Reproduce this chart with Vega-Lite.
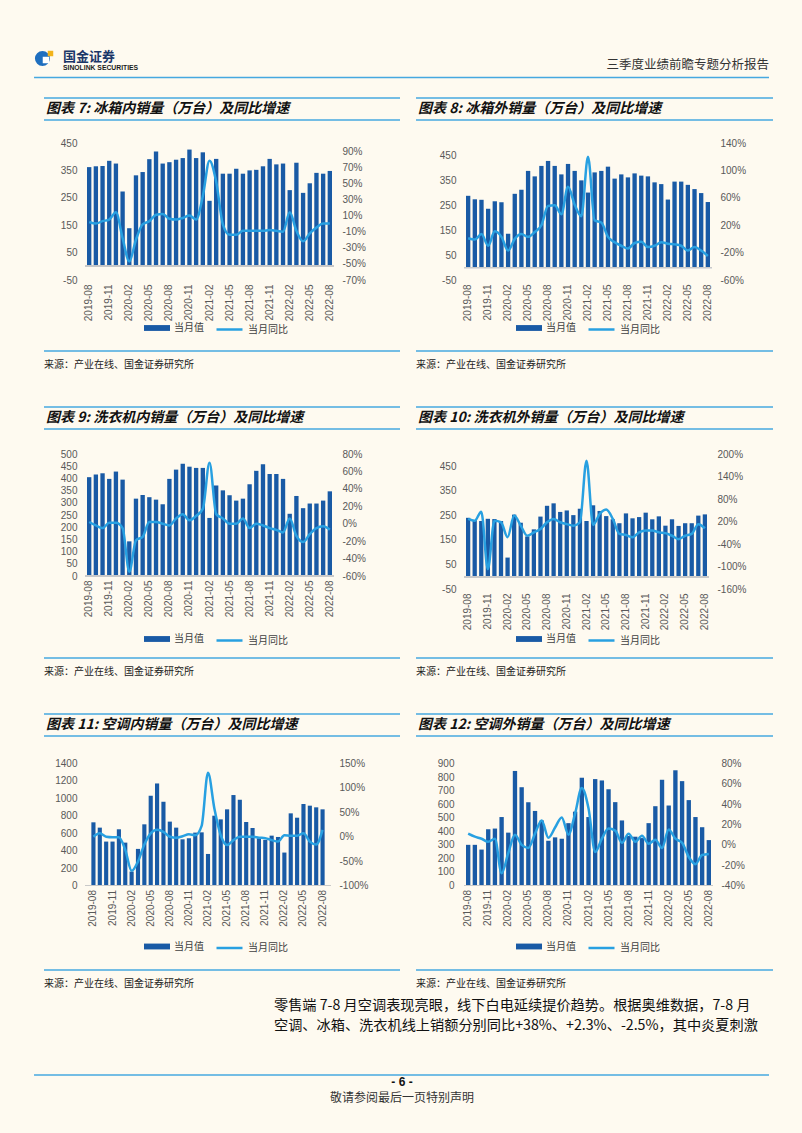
{
"$schema": "https://vega.github.io/schema/vega-lite/v6.json",
"background": "#fefaf0",
"padding": {"left": 33, "top": 40, "right": 32, "bottom": 0},
"spacing": 0,
"resolve": {"scale": {"fill": "independent", "stroke": "independent"}},
"config": {
  "view": {"stroke": null},
  "axis": {"labelFont": "Liberation Sans", "labelFontSize": 10, "labelColor": "#595959", "grid": false, "ticks": false, "domain": false, "labelOverlap": false, "labelFlush": false},
  "legend": {"padding": 0, "labelFont": "Noto Sans CJK SC", "labelFontSize": 10, "labelColor": "#404040", "symbolSize": 169, "labelOffset": 10.5},
  "text": {"font": "Noto Sans CJK SC"}
},
"datasets": {"d": [
{"m":"2019-08","v7":362,"y7":2,"v8":288,"y8":1,"v9":405,"y9":2,"v10":240,"y10":27,"v11":725,"y11":0,"v12":300,"y12":11},
{"m":"2019-09","v7":365,"y7":0,"v8":274,"y8":-1,"v9":416,"y9":-2,"v10":231,"y10":22,"v11":664,"y11":7,"v12":300,"y12":8},
{"m":"2019-10","v7":366,"y7":3,"v8":272,"y8":7,"v9":421,"y9":-5,"v10":227,"y10":46,"v11":504,"y11":0,"v12":265,"y12":6},
{"m":"2019-11","v7":385,"y7":5,"v8":236,"y8":-10,"v9":398,"y9":1,"v10":236,"y10":-107,"v11":504,"y11":-1,"v12":415,"y12":3},
{"m":"2019-12","v7":375,"y7":14,"v8":266,"y8":11,"v9":428,"y9":1,"v10":235,"y10":22,"v11":645,"y11":-1,"v12":420,"y12":6},
{"m":"2020-01","v7":273,"y7":-18,"v8":262,"y8":3,"v9":395,"y9":-5,"v10":227,"y10":18,"v11":492,"y11":-27,"v12":505,"y12":-28},
{"m":"2020-02","v7":139,"y7":-47,"v8":136,"y8":-17,"v9":142,"y9":-55,"v10":78,"y10":-22,"v11":160,"y11":-70,"v12":390,"y12":-8},
{"m":"2020-03","v7":332,"y7":-20,"v8":296,"y8":0,"v9":317,"y9":-19,"v10":253,"y10":36,"v11":420,"y11":-51,"v12":845,"y12":10},
{"m":"2020-04","v7":344,"y7":-1,"v8":312,"y8":7,"v9":332,"y9":-15,"v10":220,"y10":9,"v11":702,"y11":-16,"v12":725,"y12":0},
{"m":"2020-05","v7":391,"y7":3,"v8":388,"y8":3,"v9":323,"y9":2,"v10":164,"y10":-18,"v11":1030,"y11":7,"v12":615,"y12":-3},
{"m":"2020-06","v7":419,"y7":11,"v8":366,"y8":10,"v9":313,"y9":2,"v10":193,"y10":-9,"v11":1171,"y11":14,"v12":550,"y12":11},
{"m":"2020-07","v7":375,"y7":12,"v8":408,"y8":20,"v9":294,"y9":0,"v10":245,"y10":0,"v11":961,"y11":10,"v12":480,"y12":24},
{"m":"2020-08","v7":380,"y7":6,"v8":428,"y8":48,"v9":398,"y9":-2,"v10":289,"y10":18,"v11":733,"y11":0,"v12":330,"y12":7},
{"m":"2020-09","v7":389,"y7":5,"v8":408,"y8":49,"v9":436,"y9":6,"v10":299,"y10":27,"v11":664,"y11":-2,"v12":355,"y12":17},
{"m":"2020-10","v7":395,"y7":7,"v8":374,"y8":36,"v9":460,"y9":11,"v10":264,"y10":18,"v11":530,"y11":1,"v12":345,"y12":27},
{"m":"2020-11","v7":426,"y7":10,"v8":416,"y8":76,"v9":448,"y9":4,"v10":270,"y10":13,"v11":542,"y11":5,"v12":460,"y12":10},
{"m":"2020-12","v7":395,"y7":5,"v8":388,"y8":50,"v9":443,"y9":9,"v10":251,"y10":9,"v11":607,"y11":3,"v12":545,"y12":31},
{"m":"2021-01","v7":416,"y7":34,"v8":350,"y8":33,"v9":443,"y9":17,"v10":277,"y10":18,"v11":610,"y11":22,"v12":795,"y12":56},
{"m":"2021-02","v7":239,"y7":78,"v8":301,"y8":120,"v9":238,"y9":70,"v10":227,"y10":182,"v11":362,"y11":131,"v12":505,"y12":36},
{"m":"2021-03","v7":392,"y7":52,"v8":382,"y8":27,"v9":371,"y9":11,"v10":291,"y10":11,"v11":801,"y11":58,"v12":785,"y12":-7},
{"m":"2021-04","v7":338,"y7":-1,"v8":388,"y8":24,"v9":351,"y9":6,"v10":268,"y10":40,"v11":759,"y11":3,"v12":775,"y12":6},
{"m":"2021-05","v7":338,"y7":-14,"v8":405,"y8":3,"v9":331,"y9":0,"v10":247,"y10":52,"v11":874,"y11":-17,"v12":710,"y12":16},
{"m":"2021-06","v7":356,"y7":-14,"v8":357,"y8":-5,"v9":309,"y9":0,"v10":234,"y10":27,"v11":1038,"y11":-7,"v12":615,"y12":14},
{"m":"2021-07","v7":338,"y7":-9,"v8":374,"y8":-10,"v9":317,"y9":6,"v10":218,"y10":-13,"v11":984,"y11":0,"v12":480,"y12":2},
{"m":"2021-08","v7":350,"y7":-9,"v8":362,"y8":-14,"v9":376,"y9":-5,"v10":258,"y10":-16,"v11":729,"y11":0,"v12":365,"y12":11},
{"m":"2021-09","v7":352,"y7":-9,"v8":378,"y8":-6,"v9":431,"y9":0,"v10":238,"y10":-22,"v11":660,"y11":0,"v12":360,"y12":3},
{"m":"2021-10","v7":365,"y7":-9,"v8":369,"y8":-4,"v9":458,"y9":-2,"v10":243,"y10":-9,"v11":542,"y11":-2,"v12":350,"y12":9},
{"m":"2021-11","v7":392,"y7":-8,"v8":366,"y8":-12,"v9":418,"y9":-5,"v10":261,"y10":-4,"v11":523,"y11":-3,"v12":460,"y12":1},
{"m":"2021-12","v7":372,"y7":-9,"v8":342,"y8":-10,"v9":418,"y9":-7,"v10":234,"y10":-4,"v11":572,"y11":-7,"v12":585,"y12":5},
{"m":"2022-01","v7":375,"y7":-10,"v8":335,"y8":-5,"v9":398,"y9":-10,"v10":246,"y10":-9,"v11":557,"y11":-10,"v12":780,"y12":-3},
{"m":"2022-02","v7":278,"y7":14,"v8":273,"y8":-7,"v9":255,"y9":6,"v10":208,"y10":-11,"v11":378,"y11":3,"v12":590,"y12":15},
{"m":"2022-03","v7":378,"y7":-9,"v8":345,"y8":-8,"v9":328,"y9":-14,"v10":234,"y10":-18,"v11":828,"y11":2,"v12":850,"y12":6},
{"m":"2022-04","v7":268,"y7":-22,"v8":345,"y8":-10,"v9":278,"y9":-21,"v10":207,"y10":-27,"v11":778,"y11":2,"v12":770,"y12":2},
{"m":"2022-05","v7":303,"y7":-12,"v8":332,"y8":-17,"v9":297,"y9":-12,"v10":218,"y10":-18,"v11":935,"y11":7,"v12":630,"y12":-12},
{"m":"2022-06","v7":341,"y7":-5,"v8":315,"y8":-12,"v9":297,"y9":-5,"v10":218,"y10":-13,"v11":916,"y11":-10,"v12":505,"y12":-19},
{"m":"2022-07","v7":338,"y7":0,"v8":299,"y8":-17,"v9":309,"y9":-3,"v10":249,"y10":13,"v11":897,"y11":-16,"v12":430,"y12":-10},
{"m":"2022-08","v7":348,"y7":0,"v8":263,"y8":-25,"v9":347,"y9":-7,"v10":254,"y10":2,"v11":874,"y11":14,"v12":335,"y12":-9}
]},
"vconcat": [
{
  "width": 686, "height": 57,
  "data": {"values": [{}]},
  "layer": [
    {"mark": {"type": "rule", "stroke": "#46a8e0", "strokeWidth": 1.5},
     "encoding": {"x": {"datum": -0.0743, "type": "quantitative", "scale": {"domain": [0, 1]}, "axis": null}, "x2": {"datum": 0.9971}, "y": {"datum": 0.342, "type": "quantitative", "scale": {"domain": [0, 1]}, "axis": null}}},
    {"mark": {"type": "point", "filled": true, "shape": "circle", "size": 227, "color": "#1f6fbf", "opacity": 1},
     "encoding": {"x": {"datum": -0.062, "type": "quantitative"}, "y": {"datum": 0.675, "type": "quantitative"}}},
    {"mark": {"type": "point", "filled": true, "shape": "square", "size": 42, "color": "#ffffff", "opacity": 1},
     "encoding": {"x": {"datum": -0.0569, "type": "quantitative"}, "y": {"datum": 0.649, "type": "quantitative"}}},
    {"mark": {"type": "point", "filled": true, "shape": "square", "size": 30, "color": "#f2b31a", "opacity": 1},
     "encoding": {"x": {"datum": -0.0503, "type": "quantitative"}, "y": {"datum": 0.763, "type": "quantitative"}}},
    {"mark": {"type": "text", "text": "国金证券", "align": "left", "baseline": "middle", "fontSize": 13, "fontWeight": "bold", "fill": "#1a3668"},
     "encoding": {"x": {"datum": -0.0321, "type": "quantitative"}, "y": {"datum": 0.702, "type": "quantitative"}}},
    {"mark": {"type": "text", "text": "SINOLINK SECURITIES", "align": "left", "baseline": "middle", "font": "Liberation Sans", "fontSize": 6.8, "fontWeight": "bold", "fill": "#1a1a1a"},
     "encoding": {"x": {"datum": -0.0321, "type": "quantitative"}, "y": {"datum": 0.509, "type": "quantitative"}}},
    {"mark": {"type": "text", "text": "三季度业绩前瞻专题分析报告", "align": "right", "baseline": "middle", "fontSize": 12.5, "fill": "#333333"},
     "encoding": {"x": {"datum": 0.9971, "type": "quantitative"}, "y": {"datum": 0.561, "type": "quantitative"}}}
  ]
},
{
  "columns": 2, "align": "each", "spacing": {"row": 15, "column": 14},
  "resolve": {"scale": {"fill": "independent", "stroke": "independent"}},
  "concat": [
    {"width": 315, "height": 24.5, "data": {"values": [{}]},
     "layer": [
      {"mark": {"type": "rule", "stroke": "#46a8e0", "strokeWidth": 1.5}, "encoding": {"x": {"datum": -0.1302, "type": "quantitative", "scale": {"domain": [0, 1]}, "axis": null}, "x2": {"datum": 1}, "y": {"datum": 1, "type": "quantitative", "scale": {"domain": [0, 1]}, "axis": null}}},
      {"mark": {"type": "rule", "stroke": "#46a8e0", "strokeWidth": 1.5}, "encoding": {"x": {"datum": -0.1302, "type": "quantitative"}, "x2": {"datum": 1}, "y": {"datum": 0.102, "type": "quantitative"}}},
      {"mark": {"type": "text", "text": "图表 7: 冰箱内销量（万台）及同比增速", "align": "left", "baseline": "middle", "dx": 2, "fontSize": 14, "fontWeight": "bold", "fontStyle": "italic", "fill": "#111111"},
       "encoding": {"x": {"datum": -0.1302, "type": "quantitative"}, "y": {"datum": 0.551, "type": "quantitative"}}}
     ]},
    {"width": 309, "height": 24.5, "data": {"values": [{}]},
     "layer": [
      {"mark": {"type": "rule", "stroke": "#46a8e0", "strokeWidth": 1.5}, "encoding": {"x": {"datum": -0.1553, "type": "quantitative", "scale": {"domain": [0, 1]}, "axis": null}, "x2": {"datum": 1}, "y": {"datum": 1, "type": "quantitative", "scale": {"domain": [0, 1]}, "axis": null}}},
      {"mark": {"type": "rule", "stroke": "#46a8e0", "strokeWidth": 1.5}, "encoding": {"x": {"datum": -0.1553, "type": "quantitative"}, "x2": {"datum": 1}, "y": {"datum": 0.102, "type": "quantitative"}}},
      {"mark": {"type": "text", "text": "图表 8: 冰箱外销量（万台）及同比增速", "align": "left", "baseline": "middle", "dx": 2, "fontSize": 14, "fontWeight": "bold", "fontStyle": "italic", "fill": "#111111"},
       "encoding": {"x": {"datum": -0.1553, "type": "quantitative"}, "y": {"datum": 0.551, "type": "quantitative"}}}
     ]},
    {"width": 249, "height": 137, "data": {"name": "d"},
     "layer": [
      {"layer": [
        {"mark": {"type": "bar"},
         "encoding": {
          "x": {"field": "m", "type": "ordinal", "sort": null, "scale": {"paddingInner": 0.35, "paddingOuter": 0.3}, "axis": {"values": ["2019-08","2019-11","2020-02","2020-05","2020-08","2020-11","2021-02","2021-05","2021-08","2021-11","2022-02","2022-05","2022-08"], "labelAngle": -90, "labelPadding": 4, "title": null}},
          "y": {"field": "v7", "type": "quantitative", "scale": {"domain": [-50, 450], "nice": false, "zero": false}, "axis": {"values": [-50,50,150,250,350,450], "labelExpr": "'' + datum.value", "labelOverlap": false, "labelPadding": 8, "title": null}},
          "y2": {"datum": 0},
          "fill": {"datum": "当月值", "type": "nominal", "scale": {"range": ["#195aa5"]}, "legend": {"orient": "none", "legendX": 65.5, "legendY": 178.5, "title": null, "symbolType": "M-2,-0.45H2V0.45H-2Z", "symbolStrokeWidth": 0}}
         }},
        {"mark": {"type": "rule", "stroke": "#c9c9c9", "strokeWidth": 1}, "encoding": {"y": {"datum": 0, "type": "quantitative", "axis": {"values": [-50,50,150,250,350,450], "labelExpr": "'' + datum.value", "labelOverlap": false, "labelPadding": 8, "title": null}}}}
      ]},
      {"mark": {"type": "line", "strokeWidth": 2.5, "interpolate": "monotone"},
       "encoding": {
        "x": {"field": "m", "type": "ordinal", "sort": null},
        "y": {"field": "y7", "type": "quantitative", "scale": {"domain": [-70, 100], "nice": false, "zero": false}, "axis": {"orient": "right", "values": [-70,-50,-30,-10,10,30,50,70,90], "labelOverlap": false, "labelExpr": "datum.value + '%'", "labelPadding": 8, "title": null}},
        "stroke": {"datum": "当月同比", "type": "nominal", "scale": {"range": ["#28a0e1"]}, "legend": {"orient": "none", "legendX": 136.5, "legendY": 178.5, "title": null, "symbolType": "M-2,0H2", "symbolStrokeWidth": 2.5}}
       }}
     ],
     "resolve": {"scale": {"y": "independent"}}},
    {"width": 248, "height": 137, "data": {"name": "d"},
     "layer": [
      {"layer": [
        {"mark": {"type": "bar"},
         "encoding": {
          "x": {"field": "m", "type": "ordinal", "sort": null, "scale": {"paddingInner": 0.35, "paddingOuter": 0.3}, "axis": {"values": ["2019-08","2019-11","2020-02","2020-05","2020-08","2020-11","2021-02","2021-05","2021-08","2021-11","2022-02","2022-05","2022-08"], "labelAngle": -90, "labelPadding": 4, "title": null}},
          "y": {"field": "v8", "type": "quantitative", "scale": {"domain": [-50, 500], "nice": false, "zero": false}, "axis": {"values": [-50,50,150,250,350,450], "labelExpr": "'' + datum.value", "labelOverlap": false, "labelPadding": 8, "title": null}},
          "y2": {"datum": 0},
          "fill": {"datum": "当月值", "type": "nominal", "scale": {"range": ["#195aa5"]}, "legend": {"orient": "none", "legendX": 58.5, "legendY": 178.5, "title": null, "symbolType": "M-2,-0.45H2V0.45H-2Z", "symbolStrokeWidth": 0}}
         }},
        {"mark": {"type": "rule", "stroke": "#c9c9c9", "strokeWidth": 1}, "encoding": {"y": {"datum": 0, "type": "quantitative", "axis": {"values": [-50,50,150,250,350,450], "labelExpr": "'' + datum.value", "labelOverlap": false, "labelPadding": 8, "title": null}}}}
      ]},
      {"mark": {"type": "line", "strokeWidth": 2.5, "interpolate": "monotone"},
       "encoding": {
        "x": {"field": "m", "type": "ordinal", "sort": null},
        "y": {"field": "y8", "type": "quantitative", "scale": {"domain": [-60, 140], "nice": false, "zero": false}, "axis": {"orient": "right", "values": [-60,-20,20,60,100,140], "labelOverlap": false, "labelExpr": "datum.value + '%'", "labelPadding": 8, "title": null}},
        "stroke": {"datum": "当月同比", "type": "nominal", "scale": {"range": ["#28a0e1"]}, "legend": {"orient": "none", "legendX": 129.5, "legendY": 178.5, "title": null, "symbolType": "M-2,0H2", "symbolStrokeWidth": 2.5}}
       }}
     ],
     "resolve": {"scale": {"y": "independent"}}},
    {"width": 315, "height": 54.75, "data": {"values": [{}]},
     "layer": [
      {"mark": {"type": "rule", "stroke": "#46a8e0", "strokeWidth": 1.5}, "encoding": {"x": {"datum": -0.1302, "type": "quantitative", "scale": {"domain": [0, 1]}, "axis": null}, "x2": {"datum": 1}, "y": {"datum": 1, "type": "quantitative", "scale": {"domain": [0, 1]}, "axis": null}}},
      {"mark": {"type": "text", "text": "来源：产业在线、国金证券研究所", "align": "left", "baseline": "middle", "fontSize": 10, "fill": "#222222"},
       "encoding": {"x": {"datum": -0.1302, "type": "quantitative"}, "y": {"datum": 0.7534, "type": "quantitative"}}}
     ]},
    {"width": 309, "height": 54.75, "data": {"values": [{}]},
     "layer": [
      {"mark": {"type": "rule", "stroke": "#46a8e0", "strokeWidth": 1.5}, "encoding": {"x": {"datum": -0.1553, "type": "quantitative", "scale": {"domain": [0, 1]}, "axis": null}, "x2": {"datum": 1}, "y": {"datum": 1, "type": "quantitative", "scale": {"domain": [0, 1]}, "axis": null}}},
      {"mark": {"type": "text", "text": "来源：产业在线、国金证券研究所", "align": "left", "baseline": "middle", "fontSize": 10, "fill": "#222222"},
       "encoding": {"x": {"datum": -0.1553, "type": "quantitative"}, "y": {"datum": 0.7534, "type": "quantitative"}}}
     ]}
  ]
},
{
  "columns": 2, "align": "each", "spacing": {"row": 11, "column": 14},
  "resolve": {"scale": {"fill": "independent", "stroke": "independent"}},
  "concat": [
    {"width": 315, "height": 31, "data": {"values": [{}]},
     "layer": [
      {"mark": {"type": "rule", "stroke": "#46a8e0", "strokeWidth": 1.5}, "encoding": {"x": {"datum": -0.1302, "type": "quantitative", "scale": {"domain": [0, 1]}, "axis": null}, "x2": {"datum": 1}, "y": {"datum": 1, "type": "quantitative", "scale": {"domain": [0, 1]}, "axis": null}}},
      {"mark": {"type": "rule", "stroke": "#46a8e0", "strokeWidth": 1.5}, "encoding": {"x": {"datum": -0.1302, "type": "quantitative"}, "x2": {"datum": 1}, "y": {"datum": 0.29, "type": "quantitative"}}},
      {"mark": {"type": "text", "text": "图表 9: 洗衣机内销量（万台）及同比增速", "align": "left", "baseline": "middle", "dx": 2, "fontSize": 14, "fontWeight": "bold", "fontStyle": "italic", "fill": "#111111"},
       "encoding": {"x": {"datum": -0.1302, "type": "quantitative"}, "y": {"datum": 0.645, "type": "quantitative"}}}
     ]},
    {"width": 309, "height": 31, "data": {"values": [{}]},
     "layer": [
      {"mark": {"type": "rule", "stroke": "#46a8e0", "strokeWidth": 1.5}, "encoding": {"x": {"datum": -0.1553, "type": "quantitative", "scale": {"domain": [0, 1]}, "axis": null}, "x2": {"datum": 1}, "y": {"datum": 1, "type": "quantitative", "scale": {"domain": [0, 1]}, "axis": null}}},
      {"mark": {"type": "rule", "stroke": "#46a8e0", "strokeWidth": 1.5}, "encoding": {"x": {"datum": -0.1553, "type": "quantitative"}, "x2": {"datum": 1}, "y": {"datum": 0.29, "type": "quantitative"}}},
      {"mark": {"type": "text", "text": "图表 10: 洗衣机外销量（万台）及同比增速", "align": "left", "baseline": "middle", "dx": 2, "fontSize": 14, "fontWeight": "bold", "fontStyle": "italic", "fill": "#111111"},
       "encoding": {"x": {"datum": -0.1553, "type": "quantitative"}, "y": {"datum": 0.645, "type": "quantitative"}}}
     ]},
    {"width": 249, "height": 122, "data": {"name": "d"},
     "layer": [
      {"layer": [
        {"mark": {"type": "bar"},
         "encoding": {
          "x": {"field": "m", "type": "ordinal", "sort": null, "scale": {"paddingInner": 0.35, "paddingOuter": 0.3}, "axis": {"values": ["2019-08","2019-11","2020-02","2020-05","2020-08","2020-11","2021-02","2021-05","2021-08","2021-11","2022-02","2022-05","2022-08"], "labelAngle": -90, "labelPadding": 4, "title": null}},
          "y": {"field": "v9", "type": "quantitative", "scale": {"domain": [0, 500], "nice": false, "zero": false}, "axis": {"values": [0,50,100,150,200,250,300,350,400,450,500], "labelOverlap": false, "labelPadding": 8, "title": null}},
          "y2": {"datum": 0},
          "fill": {"datum": "当月值", "type": "nominal", "scale": {"range": ["#195aa5"]}, "legend": {"orient": "none", "legendX": 65.5, "legendY": 178.5, "title": null, "symbolType": "M-2,-0.45H2V0.45H-2Z", "symbolStrokeWidth": 0}}
         }},
        {"mark": {"type": "rule", "stroke": "#c9c9c9", "strokeWidth": 1}, "encoding": {"y": {"datum": 0, "type": "quantitative", "axis": {"values": [0,50,100,150,200,250,300,350,400,450,500], "labelOverlap": false, "labelPadding": 8, "title": null}}}}
      ]},
      {"mark": {"type": "line", "strokeWidth": 2.5, "interpolate": "monotone"},
       "encoding": {
        "x": {"field": "m", "type": "ordinal", "sort": null},
        "y": {"field": "y9", "type": "quantitative", "scale": {"domain": [-60, 80], "nice": false, "zero": false}, "axis": {"orient": "right", "values": [-60,-40,-20,0,20,40,60,80], "labelOverlap": false, "labelExpr": "datum.value + '%'", "labelPadding": 8, "title": null}},
        "stroke": {"datum": "当月同比", "type": "nominal", "scale": {"range": ["#28a0e1"]}, "legend": {"orient": "none", "legendX": 136.5, "legendY": 178.5, "title": null, "symbolType": "M-2,0H2", "symbolStrokeWidth": 2.5}}
       }}
     ],
     "resolve": {"scale": {"y": "independent"}}},
    {"width": 245, "height": 135, "data": {"name": "d"},
     "layer": [
      {"layer": [
        {"mark": {"type": "bar"},
         "encoding": {
          "x": {"field": "m", "type": "ordinal", "sort": null, "scale": {"paddingInner": 0.35, "paddingOuter": 0.3}, "axis": {"values": ["2019-08","2019-11","2020-02","2020-05","2020-08","2020-11","2021-02","2021-05","2021-08","2021-11","2022-02","2022-05","2022-08"], "labelAngle": -90, "labelPadding": 4, "title": null}},
          "y": {"field": "v10", "type": "quantitative", "scale": {"domain": [-50, 500], "nice": false, "zero": false}, "axis": {"values": [-50,50,150,250,350,450], "labelExpr": "'' + datum.value", "labelOverlap": false, "labelPadding": 8, "title": null}},
          "y2": {"datum": 0},
          "fill": {"datum": "当月值", "type": "nominal", "scale": {"range": ["#195aa5"]}, "legend": {"orient": "none", "legendX": 58.5, "legendY": 178.5, "title": null, "symbolType": "M-2,-0.45H2V0.45H-2Z", "symbolStrokeWidth": 0}}
         }},
        {"mark": {"type": "rule", "stroke": "#c9c9c9", "strokeWidth": 1}, "encoding": {"y": {"datum": 0, "type": "quantitative", "axis": {"values": [-50,50,150,250,350,450], "labelExpr": "'' + datum.value", "labelOverlap": false, "labelPadding": 8, "title": null}}}}
      ]},
      {"mark": {"type": "line", "strokeWidth": 2.5, "interpolate": "monotone"},
       "encoding": {
        "x": {"field": "m", "type": "ordinal", "sort": null},
        "y": {"field": "y10", "type": "quantitative", "scale": {"domain": [-160, 200], "nice": false, "zero": false}, "axis": {"orient": "right", "values": [-160,-100,-40,20,80,140,200], "labelOverlap": false, "labelExpr": "datum.value + '%'", "labelPadding": 8, "title": null}},
        "stroke": {"datum": "当月同比", "type": "nominal", "scale": {"range": ["#28a0e1"]}, "legend": {"orient": "none", "legendX": 129.5, "legendY": 178.5, "title": null, "symbolType": "M-2,0H2", "symbolStrokeWidth": 2.5}}
       }}
     ],
     "resolve": {"scale": {"y": "independent"}}},
    {"width": 315, "height": 55, "data": {"values": [{}]},
     "layer": [
      {"mark": {"type": "rule", "stroke": "#46a8e0", "strokeWidth": 1.5}, "encoding": {"x": {"datum": -0.1302, "type": "quantitative", "scale": {"domain": [0, 1]}, "axis": null}, "x2": {"datum": 1}, "y": {"datum": 1, "type": "quantitative", "scale": {"domain": [0, 1]}, "axis": null}}},
      {"mark": {"type": "text", "text": "来源：产业在线、国金证券研究所", "align": "left", "baseline": "middle", "fontSize": 10, "fill": "#222222"},
       "encoding": {"x": {"datum": -0.1302, "type": "quantitative"}, "y": {"datum": 0.7545, "type": "quantitative"}}}
     ]},
    {"width": 309, "height": 55, "data": {"values": [{}]},
     "layer": [
      {"mark": {"type": "rule", "stroke": "#46a8e0", "strokeWidth": 1.5}, "encoding": {"x": {"datum": -0.1553, "type": "quantitative", "scale": {"domain": [0, 1]}, "axis": null}, "x2": {"datum": 1}, "y": {"datum": 1, "type": "quantitative", "scale": {"domain": [0, 1]}, "axis": null}}},
      {"mark": {"type": "text", "text": "来源：产业在线、国金证券研究所", "align": "left", "baseline": "middle", "fontSize": 10, "fill": "#222222"},
       "encoding": {"x": {"datum": -0.1553, "type": "quantitative"}, "y": {"datum": 0.7545, "type": "quantitative"}}}
     ]}
  ]
},
{
  "columns": 2, "align": "each", "spacing": {"row": 15.5, "column": 14},
  "resolve": {"scale": {"fill": "independent", "stroke": "independent"}},
  "concat": [
    {"width": 315, "height": 28.5, "data": {"values": [{}]},
     "layer": [
      {"mark": {"type": "rule", "stroke": "#46a8e0", "strokeWidth": 1.5}, "encoding": {"x": {"datum": -0.1302, "type": "quantitative", "scale": {"domain": [0, 1]}, "axis": null}, "x2": {"datum": 1}, "y": {"datum": 1, "type": "quantitative", "scale": {"domain": [0, 1]}, "axis": null}}},
      {"mark": {"type": "rule", "stroke": "#46a8e0", "strokeWidth": 1.5}, "encoding": {"x": {"datum": -0.1302, "type": "quantitative"}, "x2": {"datum": 1}, "y": {"datum": 0.228, "type": "quantitative"}}},
      {"mark": {"type": "text", "text": "图表 11: 空调内销量（万台）及同比增速", "align": "left", "baseline": "middle", "dx": 2, "fontSize": 14, "fontWeight": "bold", "fontStyle": "italic", "fill": "#111111"},
       "encoding": {"x": {"datum": -0.1302, "type": "quantitative"}, "y": {"datum": 0.614, "type": "quantitative"}}}
     ]},
    {"width": 309, "height": 28.5, "data": {"values": [{}]},
     "layer": [
      {"mark": {"type": "rule", "stroke": "#46a8e0", "strokeWidth": 1.5}, "encoding": {"x": {"datum": -0.1553, "type": "quantitative", "scale": {"domain": [0, 1]}, "axis": null}, "x2": {"datum": 1}, "y": {"datum": 1, "type": "quantitative", "scale": {"domain": [0, 1]}, "axis": null}}},
      {"mark": {"type": "rule", "stroke": "#46a8e0", "strokeWidth": 1.5}, "encoding": {"x": {"datum": -0.1553, "type": "quantitative"}, "x2": {"datum": 1}, "y": {"datum": 0.228, "type": "quantitative"}}},
      {"mark": {"type": "text", "text": "图表 12: 空调外销量（万台）及同比增速", "align": "left", "baseline": "middle", "dx": 2, "fontSize": 14, "fontWeight": "bold", "fontStyle": "italic", "fill": "#111111"},
       "encoding": {"x": {"datum": -0.1553, "type": "quantitative"}, "y": {"datum": 0.614, "type": "quantitative"}}}
     ]},
    {"width": 246, "height": 122, "data": {"name": "d"},
     "layer": [
      {"layer": [
        {"mark": {"type": "bar"},
         "encoding": {
          "x": {"field": "m", "type": "ordinal", "sort": null, "scale": {"paddingInner": 0.35, "paddingOuter": 1.1}, "axis": {"values": ["2019-08","2019-11","2020-02","2020-05","2020-08","2020-11","2021-02","2021-05","2021-08","2021-11","2022-02","2022-05","2022-08"], "labelAngle": -90, "labelPadding": 4, "title": null}},
          "y": {"field": "v11", "type": "quantitative", "scale": {"domain": [0, 1400], "nice": false, "zero": false}, "axis": {"values": [0,200,400,600,800,1000,1200,1400], "format": "d", "labelOverlap": false, "labelPadding": 8, "title": null}},
          "y2": {"datum": 0},
          "fill": {"datum": "当月值", "type": "nominal", "scale": {"range": ["#195aa5"]}, "legend": {"orient": "none", "legendX": 65.5, "legendY": 176.5, "title": null, "symbolType": "M-2,-0.45H2V0.45H-2Z", "symbolStrokeWidth": 0}}
         }},
        {"mark": {"type": "rule", "stroke": "#c9c9c9", "strokeWidth": 1}, "encoding": {"y": {"datum": 0, "type": "quantitative", "axis": {"values": [0,200,400,600,800,1000,1200,1400], "format": "d", "labelOverlap": false, "labelPadding": 8, "title": null}}}}
      ]},
      {"mark": {"type": "line", "strokeWidth": 2.5, "interpolate": "monotone"},
       "encoding": {
        "x": {"field": "m", "type": "ordinal", "sort": null},
        "y": {"field": "y11", "type": "quantitative", "scale": {"domain": [-100, 150], "nice": false, "zero": false}, "axis": {"orient": "right", "values": [-100,-50,0,50,100,150], "labelOverlap": false, "labelExpr": "datum.value + '%'", "labelPadding": 8, "title": null}},
        "stroke": {"datum": "当月同比", "type": "nominal", "scale": {"range": ["#28a0e1"]}, "legend": {"orient": "none", "legendX": 136.5, "legendY": 176.5, "title": null, "symbolType": "M-2,0H2", "symbolStrokeWidth": 2.5}}
       }}
     ],
     "resolve": {"scale": {"y": "independent"}}},
    {"width": 249, "height": 122, "data": {"name": "d"},
     "layer": [
      {"layer": [
        {"mark": {"type": "bar"},
         "encoding": {
          "x": {"field": "m", "type": "ordinal", "sort": null, "scale": {"paddingInner": 0.35, "paddingOuter": 0.3}, "axis": {"values": ["2019-08","2019-11","2020-02","2020-05","2020-08","2020-11","2021-02","2021-05","2021-08","2021-11","2022-02","2022-05","2022-08"], "labelAngle": -90, "labelPadding": 4, "title": null}},
          "y": {"field": "v12", "type": "quantitative", "scale": {"domain": [0, 900], "nice": false, "zero": false}, "axis": {"values": [0,100,200,300,400,500,600,700,800,900], "labelOverlap": false, "labelPadding": 10, "title": null}},
          "y2": {"datum": 0},
          "fill": {"datum": "当月值", "type": "nominal", "scale": {"range": ["#195aa5"]}, "legend": {"orient": "none", "legendX": 58.5, "legendY": 176.5, "title": null, "symbolType": "M-2,-0.45H2V0.45H-2Z", "symbolStrokeWidth": 0}}
         }},
        {"mark": {"type": "rule", "stroke": "#c9c9c9", "strokeWidth": 1}, "encoding": {"y": {"datum": 0, "type": "quantitative", "axis": {"values": [0,100,200,300,400,500,600,700,800,900], "labelOverlap": false, "labelPadding": 10, "title": null}}}}
      ]},
      {"mark": {"type": "line", "strokeWidth": 2.5, "interpolate": "monotone"},
       "encoding": {
        "x": {"field": "m", "type": "ordinal", "sort": null},
        "y": {"field": "y12", "type": "quantitative", "scale": {"domain": [-40, 80], "nice": false, "zero": false}, "axis": {"orient": "right", "values": [-40,-20,0,20,40,60,80], "labelOverlap": false, "labelExpr": "datum.value + '%'", "labelPadding": 8, "title": null}},
        "stroke": {"datum": "当月同比", "type": "nominal", "scale": {"range": ["#28a0e1"]}, "legend": {"orient": "none", "legendX": 129.5, "legendY": 176.5, "title": null, "symbolType": "M-2,0H2", "symbolStrokeWidth": 2.5}}
       }}
     ],
     "resolve": {"scale": {"y": "independent"}}},
    {"width": 315, "height": 24.25, "data": {"values": [{}]},
     "layer": [
      {"mark": {"type": "rule", "stroke": "#46a8e0", "strokeWidth": 1.5}, "encoding": {"x": {"datum": -0.1302, "type": "quantitative", "scale": {"domain": [0, 1]}, "axis": null}, "x2": {"datum": 1}, "y": {"datum": 1, "type": "quantitative", "scale": {"domain": [0, 1]}, "axis": null}}},
      {"mark": {"type": "text", "text": "来源：产业在线、国金证券研究所", "align": "left", "baseline": "middle", "fontSize": 10, "fill": "#222222"},
       "encoding": {"x": {"datum": -0.1302, "type": "quantitative"}, "y": {"datum": 0.443, "type": "quantitative"}}}
     ]},
    {"width": 309, "height": 24.25, "data": {"values": [{}]},
     "layer": [
      {"mark": {"type": "rule", "stroke": "#46a8e0", "strokeWidth": 1.5}, "encoding": {"x": {"datum": -0.1553, "type": "quantitative", "scale": {"domain": [0, 1]}, "axis": null}, "x2": {"datum": 1}, "y": {"datum": 1, "type": "quantitative", "scale": {"domain": [0, 1]}, "axis": null}}},
      {"mark": {"type": "text", "text": "来源：产业在线、国金证券研究所", "align": "left", "baseline": "middle", "fontSize": 10, "fill": "#222222"},
       "encoding": {"x": {"datum": -0.1553, "type": "quantitative"}, "y": {"datum": 0.443, "type": "quantitative"}}}
     ]}
  ]
},
{
  "width": 686, "height": 143,
  "data": {"values": [{}]},
  "layer": [
    {"mark": {"type": "text", "text": "零售端 7-8 月空调表现亮眼，线下白电延续提价趋势。根据奥维数据，7-8 月", "align": "left", "baseline": "middle", "fontSize": 14.2, "fill": "#111111"},
     "encoding": {"x": {"datum": 0.2755, "type": "quantitative", "scale": {"domain": [0, 1]}, "axis": null}, "y": {"datum": 0.925, "type": "quantitative", "scale": {"domain": [0, 1]}, "axis": null}}},
    {"mark": {"type": "text", "text": "空调、冰箱、洗衣机线上销额分别同比+38%、+2.3%、-2.5%，其中炎夏刺激", "align": "left", "baseline": "middle", "fontSize": 14.2, "fill": "#111111"},
     "encoding": {"x": {"datum": 0.2755, "type": "quantitative"}, "y": {"datum": 0.781, "type": "quantitative"}}},
    {"mark": {"type": "rule", "stroke": "#46a8e0", "strokeWidth": 1.5},
     "encoding": {"x": {"datum": -0.0743, "type": "quantitative"}, "x2": {"datum": 0.9971}, "y": {"datum": 0.441, "type": "quantitative"}}},
    {"mark": {"type": "text", "text": "- 6 -", "align": "center", "baseline": "middle", "font": "Liberation Sans", "fontSize": 12, "fontWeight": "bold", "fill": "#111111"},
     "encoding": {"x": {"datum": 0.4621, "type": "quantitative"}, "y": {"datum": 0.392, "type": "quantitative"}}},
    {"mark": {"type": "text", "text": "敬请参阅最后一页特别声明", "align": "center", "baseline": "middle", "fontSize": 12, "fill": "#333333"},
     "encoding": {"x": {"datum": 0.4621, "type": "quantitative"}, "y": {"datum": 0.28, "type": "quantitative"}}}
  ]
}
]
}
